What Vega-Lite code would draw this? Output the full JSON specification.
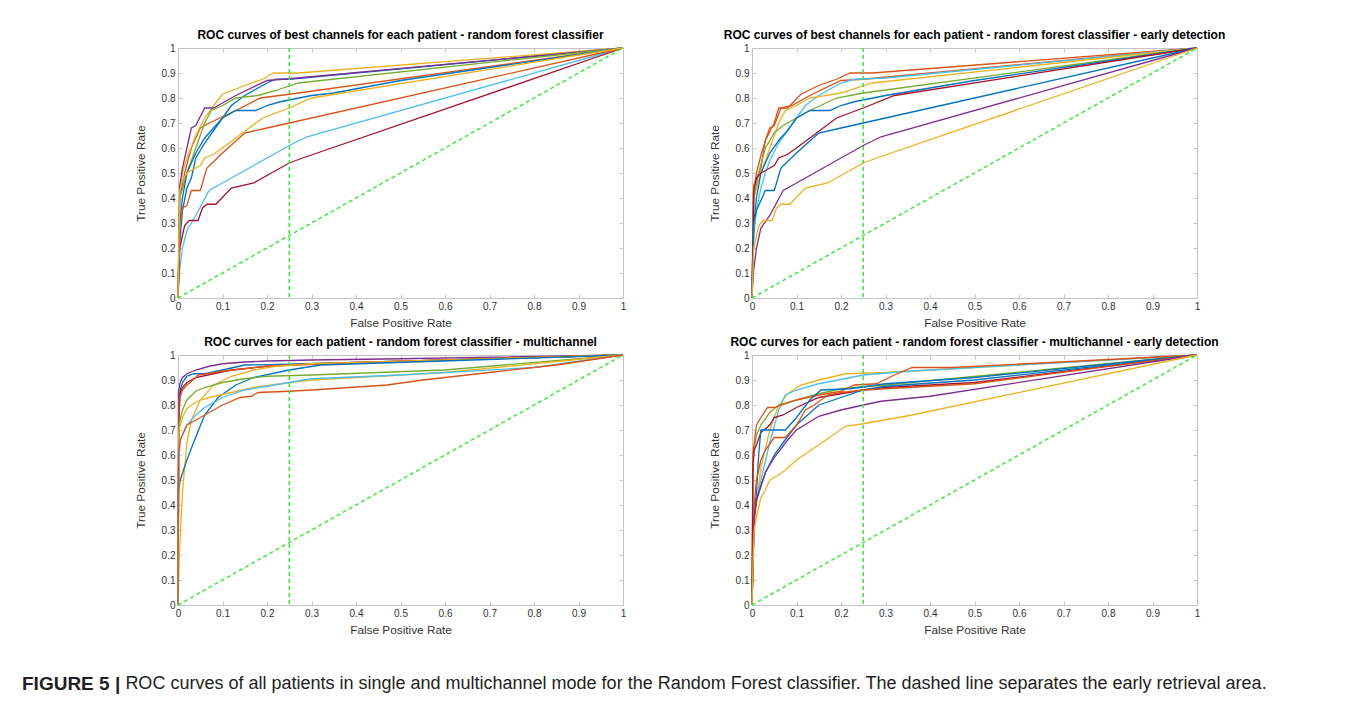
{
  "$schema": "https://vega.github.io/schema/vega-lite/v6.json",
  "padding": {"left": 21, "top": 29, "right": 0, "bottom": 0},
  "background": "white",
  "config": {
    "view": {"stroke": null},
    "axis": {"domainColor": "#c4c4c4", "tickColor": "#c4c4c4", "tickSize": -4, "grid": false, "labelFont": "Liberation Sans", "labelFontSize": 10, "labelColor": "#333333", "labelPadding": 7, "titleFont": "Liberation Sans", "titleFontSize": 11.8, "titleFontWeight": "normal", "titleColor": "#333333", "domainWidth": 1, "tickWidth": 1},
    "axisX": {"titlePadding": 6},
    "axisY": {"titlePadding": 15},
    "title": {"font": "Liberation Sans", "fontSize": 12, "fontWeight": "bold", "color": "#000000", "offset": 1}
  },
  "datasets": {
    "p1": [
      {"s":"blue1","c":"blue","x":0,"y":0},{"s":"blue1","c":"blue","x":0.004,"y":0.22},{"s":"blue1","c":"blue","x":0.01,"y":0.35},{"s":"blue1","c":"blue","x":0.02,"y":0.44},{"s":"blue1","c":"blue","x":0.03,"y":0.48},{"s":"blue1","c":"blue","x":0.04,"y":0.56},{"s":"blue1","c":"blue","x":0.06,"y":0.62},{"s":"blue1","c":"blue","x":0.08,"y":0.67},{"s":"blue1","c":"blue","x":0.1,"y":0.72},{"s":"blue1","c":"blue","x":0.12,"y":0.77},{"s":"blue1","c":"blue","x":0.15,"y":0.81},{"s":"blue1","c":"blue","x":0.2,"y":0.86},{"s":"blue1","c":"blue","x":0.22,"y":0.875},{"s":"blue1","c":"blue","x":0.25,"y":0.875},{"s":"blue1","c":"blue","x":1,"y":1},
      {"s":"orange1","c":"orange","x":0,"y":0},{"s":"orange1","c":"orange","x":0.004,"y":0.4},{"s":"orange1","c":"orange","x":0.015,"y":0.5},{"s":"orange1","c":"orange","x":0.03,"y":0.6},{"s":"orange1","c":"orange","x":0.05,"y":0.68},{"s":"orange1","c":"orange","x":0.07,"y":0.7},{"s":"orange1","c":"orange","x":0.1,"y":0.725},{"s":"orange1","c":"orange","x":0.13,"y":0.75},{"s":"orange1","c":"orange","x":0.185,"y":0.8},{"s":"orange1","c":"orange","x":0.25,"y":0.815},{"s":"orange1","c":"orange","x":1,"y":1},
      {"s":"yellow1","c":"yellow","x":0,"y":0},{"s":"yellow1","c":"yellow","x":0.003,"y":0.4},{"s":"yellow1","c":"yellow","x":0.01,"y":0.5},{"s":"yellow1","c":"yellow","x":0.02,"y":0.56},{"s":"yellow1","c":"yellow","x":0.04,"y":0.65},{"s":"yellow1","c":"yellow","x":0.06,"y":0.72},{"s":"yellow1","c":"yellow","x":0.08,"y":0.77},{"s":"yellow1","c":"yellow","x":0.1,"y":0.815},{"s":"yellow1","c":"yellow","x":0.15,"y":0.85},{"s":"yellow1","c":"yellow","x":0.19,"y":0.875},{"s":"yellow1","c":"yellow","x":0.215,"y":0.9},{"s":"yellow1","c":"yellow","x":0.27,"y":0.9},{"s":"yellow1","c":"yellow","x":1,"y":1},
      {"s":"purple","c":"purple","x":0,"y":0},{"s":"purple","c":"purple","x":0.004,"y":0.45},{"s":"purple","c":"purple","x":0.01,"y":0.52},{"s":"purple","c":"purple","x":0.02,"y":0.6},{"s":"purple","c":"purple","x":0.03,"y":0.68},{"s":"purple","c":"purple","x":0.04,"y":0.69},{"s":"purple","c":"purple","x":0.06,"y":0.76},{"s":"purple","c":"purple","x":0.08,"y":0.76},{"s":"purple","c":"purple","x":0.1,"y":0.78},{"s":"purple","c":"purple","x":0.13,"y":0.81},{"s":"purple","c":"purple","x":0.2,"y":0.87},{"s":"purple","c":"purple","x":0.25,"y":0.877},{"s":"purple","c":"purple","x":1,"y":1},
      {"s":"green","c":"green","x":0,"y":0},{"s":"green","c":"green","x":0.004,"y":0.4},{"s":"green","c":"green","x":0.02,"y":0.5},{"s":"green","c":"green","x":0.04,"y":0.6},{"s":"green","c":"green","x":0.06,"y":0.7},{"s":"green","c":"green","x":0.075,"y":0.75},{"s":"green","c":"green","x":0.1,"y":0.77},{"s":"green","c":"green","x":0.13,"y":0.8},{"s":"green","c":"green","x":0.18,"y":0.81},{"s":"green","c":"green","x":0.22,"y":0.83},{"s":"green","c":"green","x":0.27,"y":0.86},{"s":"green","c":"green","x":1,"y":1},
      {"s":"lightblue","c":"lightblue","x":0,"y":0},{"s":"lightblue","c":"lightblue","x":0.003,"y":0.1},{"s":"lightblue","c":"lightblue","x":0.01,"y":0.2},{"s":"lightblue","c":"lightblue","x":0.02,"y":0.27},{"s":"lightblue","c":"lightblue","x":0.04,"y":0.33},{"s":"lightblue","c":"lightblue","x":0.07,"y":0.43},{"s":"lightblue","c":"lightblue","x":0.1,"y":0.46},{"s":"lightblue","c":"lightblue","x":0.15,"y":0.51},{"s":"lightblue","c":"lightblue","x":0.2,"y":0.56},{"s":"lightblue","c":"lightblue","x":0.25,"y":0.61},{"s":"lightblue","c":"lightblue","x":0.29,"y":0.645},{"s":"lightblue","c":"lightblue","x":1,"y":1},
      {"s":"darkred","c":"darkred","x":0,"y":0},{"s":"darkred","c":"darkred","x":0.004,"y":0.2},{"s":"darkred","c":"darkred","x":0.01,"y":0.25},{"s":"darkred","c":"darkred","x":0.015,"y":0.29},{"s":"darkred","c":"darkred","x":0.025,"y":0.31},{"s":"darkred","c":"darkred","x":0.045,"y":0.31},{"s":"darkred","c":"darkred","x":0.055,"y":0.36},{"s":"darkred","c":"darkred","x":0.065,"y":0.375},{"s":"darkred","c":"darkred","x":0.085,"y":0.375},{"s":"darkred","c":"darkred","x":0.12,"y":0.44},{"s":"darkred","c":"darkred","x":0.17,"y":0.46},{"s":"darkred","c":"darkred","x":0.2,"y":0.49},{"s":"darkred","c":"darkred","x":0.25,"y":0.54},{"s":"darkred","c":"darkred","x":0.28,"y":0.56},{"s":"darkred","c":"darkred","x":1,"y":1},
      {"s":"blue2","c":"blue","x":0,"y":0},{"s":"blue2","c":"blue","x":0.004,"y":0.3},{"s":"blue2","c":"blue","x":0.01,"y":0.4},{"s":"blue2","c":"blue","x":0.02,"y":0.5},{"s":"blue2","c":"blue","x":0.04,"y":0.58},{"s":"blue2","c":"blue","x":0.06,"y":0.64},{"s":"blue2","c":"blue","x":0.08,"y":0.68},{"s":"blue2","c":"blue","x":0.1,"y":0.72},{"s":"blue2","c":"blue","x":0.13,"y":0.75},{"s":"blue2","c":"blue","x":0.175,"y":0.75},{"s":"blue2","c":"blue","x":0.2,"y":0.77},{"s":"blue2","c":"blue","x":0.23,"y":0.785},{"s":"blue2","c":"blue","x":0.3,"y":0.81},{"s":"blue2","c":"blue","x":0.35,"y":0.82},{"s":"blue2","c":"blue","x":0.5,"y":0.87},{"s":"blue2","c":"blue","x":1,"y":1},
      {"s":"orange2","c":"orange","x":0,"y":0},{"s":"orange2","c":"orange","x":0.004,"y":0.3},{"s":"orange2","c":"orange","x":0.01,"y":0.36},{"s":"orange2","c":"orange","x":0.02,"y":0.37},{"s":"orange2","c":"orange","x":0.03,"y":0.43},{"s":"orange2","c":"orange","x":0.05,"y":0.43},{"s":"orange2","c":"orange","x":0.065,"y":0.52},{"s":"orange2","c":"orange","x":0.1,"y":0.58},{"s":"orange2","c":"orange","x":0.15,"y":0.66},{"s":"orange2","c":"orange","x":0.2,"y":0.68},{"s":"orange2","c":"orange","x":0.25,"y":0.7},{"s":"orange2","c":"orange","x":1,"y":1},
      {"s":"yellow2","c":"yellow","x":0,"y":0},{"s":"yellow2","c":"yellow","x":0.004,"y":0.43},{"s":"yellow2","c":"yellow","x":0.01,"y":0.47},{"s":"yellow2","c":"yellow","x":0.02,"y":0.5},{"s":"yellow2","c":"yellow","x":0.04,"y":0.52},{"s":"yellow2","c":"yellow","x":0.05,"y":0.53},{"s":"yellow2","c":"yellow","x":0.06,"y":0.56},{"s":"yellow2","c":"yellow","x":0.08,"y":0.575},{"s":"yellow2","c":"yellow","x":0.1,"y":0.6},{"s":"yellow2","c":"yellow","x":0.13,"y":0.64},{"s":"yellow2","c":"yellow","x":0.19,"y":0.72},{"s":"yellow2","c":"yellow","x":0.25,"y":0.76},{"s":"yellow2","c":"yellow","x":0.3,"y":0.8},{"s":"yellow2","c":"yellow","x":1,"y":1}
    ],
    "p2": [
      {"s":"orange1","c":"orange","x":0,"y":0},{"s":"orange1","c":"orange","x":0.003,"y":0.42},{"s":"orange1","c":"orange","x":0.01,"y":0.5},{"s":"orange1","c":"orange","x":0.02,"y":0.57},{"s":"orange1","c":"orange","x":0.03,"y":0.63},{"s":"orange1","c":"orange","x":0.05,"y":0.7},{"s":"orange1","c":"orange","x":0.06,"y":0.76},{"s":"orange1","c":"orange","x":0.08,"y":0.76},{"s":"orange1","c":"orange","x":0.11,"y":0.815},{"s":"orange1","c":"orange","x":0.15,"y":0.85},{"s":"orange1","c":"orange","x":0.19,"y":0.875},{"s":"orange1","c":"orange","x":0.22,"y":0.9},{"s":"orange1","c":"orange","x":0.27,"y":0.9},{"s":"orange1","c":"orange","x":1,"y":1},
      {"s":"orange2","c":"orange","x":0,"y":0},{"s":"orange2","c":"orange","x":0.004,"y":0.45},{"s":"orange2","c":"orange","x":0.02,"y":0.52},{"s":"orange2","c":"orange","x":0.03,"y":0.63},{"s":"orange2","c":"orange","x":0.04,"y":0.68},{"s":"orange2","c":"orange","x":0.05,"y":0.69},{"s":"orange2","c":"orange","x":0.065,"y":0.76},{"s":"orange2","c":"orange","x":0.09,"y":0.77},{"s":"orange2","c":"orange","x":0.1,"y":0.78},{"s":"orange2","c":"orange","x":0.13,"y":0.81},{"s":"orange2","c":"orange","x":0.2,"y":0.87},{"s":"orange2","c":"orange","x":0.25,"y":0.875},{"s":"orange2","c":"orange","x":1,"y":1},
      {"s":"lightblue","c":"lightblue","x":0,"y":0},{"s":"lightblue","c":"lightblue","x":0.004,"y":0.25},{"s":"lightblue","c":"lightblue","x":0.01,"y":0.35},{"s":"lightblue","c":"lightblue","x":0.02,"y":0.44},{"s":"lightblue","c":"lightblue","x":0.03,"y":0.5},{"s":"lightblue","c":"lightblue","x":0.04,"y":0.55},{"s":"lightblue","c":"lightblue","x":0.06,"y":0.62},{"s":"lightblue","c":"lightblue","x":0.08,"y":0.67},{"s":"lightblue","c":"lightblue","x":0.1,"y":0.72},{"s":"lightblue","c":"lightblue","x":0.12,"y":0.77},{"s":"lightblue","c":"lightblue","x":0.15,"y":0.81},{"s":"lightblue","c":"lightblue","x":0.2,"y":0.86},{"s":"lightblue","c":"lightblue","x":0.23,"y":0.875},{"s":"lightblue","c":"lightblue","x":0.3,"y":0.88},{"s":"lightblue","c":"lightblue","x":1,"y":1},
      {"s":"yellow1","c":"yellow","x":0,"y":0},{"s":"yellow1","c":"yellow","x":0.004,"y":0.4},{"s":"yellow1","c":"yellow","x":0.02,"y":0.5},{"s":"yellow1","c":"yellow","x":0.04,"y":0.6},{"s":"yellow1","c":"yellow","x":0.06,"y":0.7},{"s":"yellow1","c":"yellow","x":0.075,"y":0.75},{"s":"yellow1","c":"yellow","x":0.1,"y":0.77},{"s":"yellow1","c":"yellow","x":0.13,"y":0.8},{"s":"yellow1","c":"yellow","x":0.2,"y":0.82},{"s":"yellow1","c":"yellow","x":0.27,"y":0.86},{"s":"yellow1","c":"yellow","x":1,"y":1},
      {"s":"green","c":"green","x":0,"y":0},{"s":"green","c":"green","x":0.004,"y":0.4},{"s":"green","c":"green","x":0.015,"y":0.5},{"s":"green","c":"green","x":0.03,"y":0.6},{"s":"green","c":"green","x":0.05,"y":0.66},{"s":"green","c":"green","x":0.07,"y":0.69},{"s":"green","c":"green","x":0.1,"y":0.72},{"s":"green","c":"green","x":0.13,"y":0.75},{"s":"green","c":"green","x":0.19,"y":0.8},{"s":"green","c":"green","x":0.25,"y":0.82},{"s":"green","c":"green","x":1,"y":1},
      {"s":"blue1","c":"blue","x":0,"y":0},{"s":"blue1","c":"blue","x":0.004,"y":0.3},{"s":"blue1","c":"blue","x":0.01,"y":0.4},{"s":"blue1","c":"blue","x":0.02,"y":0.5},{"s":"blue1","c":"blue","x":0.04,"y":0.58},{"s":"blue1","c":"blue","x":0.06,"y":0.63},{"s":"blue1","c":"blue","x":0.08,"y":0.67},{"s":"blue1","c":"blue","x":0.1,"y":0.72},{"s":"blue1","c":"blue","x":0.13,"y":0.75},{"s":"blue1","c":"blue","x":0.175,"y":0.75},{"s":"blue1","c":"blue","x":0.2,"y":0.77},{"s":"blue1","c":"blue","x":0.23,"y":0.785},{"s":"blue1","c":"blue","x":0.3,"y":0.81},{"s":"blue1","c":"blue","x":0.5,"y":0.87},{"s":"blue1","c":"blue","x":1,"y":1},
      {"s":"darkred","c":"darkred","x":0,"y":0},{"s":"darkred","c":"darkred","x":0.004,"y":0.43},{"s":"darkred","c":"darkred","x":0.01,"y":0.48},{"s":"darkred","c":"darkred","x":0.02,"y":0.5},{"s":"darkred","c":"darkred","x":0.04,"y":0.52},{"s":"darkred","c":"darkred","x":0.05,"y":0.53},{"s":"darkred","c":"darkred","x":0.06,"y":0.56},{"s":"darkred","c":"darkred","x":0.08,"y":0.575},{"s":"darkred","c":"darkred","x":0.1,"y":0.6},{"s":"darkred","c":"darkred","x":0.13,"y":0.64},{"s":"darkred","c":"darkred","x":0.19,"y":0.72},{"s":"darkred","c":"darkred","x":0.25,"y":0.76},{"s":"darkred","c":"darkred","x":0.32,"y":0.81},{"s":"darkred","c":"darkred","x":1,"y":1},
      {"s":"blue2","c":"blue","x":0,"y":0},{"s":"blue2","c":"blue","x":0.004,"y":0.3},{"s":"blue2","c":"blue","x":0.01,"y":0.35},{"s":"blue2","c":"blue","x":0.015,"y":0.37},{"s":"blue2","c":"blue","x":0.03,"y":0.43},{"s":"blue2","c":"blue","x":0.05,"y":0.43},{"s":"blue2","c":"blue","x":0.065,"y":0.52},{"s":"blue2","c":"blue","x":0.1,"y":0.58},{"s":"blue2","c":"blue","x":0.15,"y":0.66},{"s":"blue2","c":"blue","x":0.2,"y":0.68},{"s":"blue2","c":"blue","x":0.25,"y":0.7},{"s":"blue2","c":"blue","x":1,"y":1},
      {"s":"purple","c":"purple","x":0,"y":0},{"s":"purple","c":"purple","x":0.003,"y":0.1},{"s":"purple","c":"purple","x":0.01,"y":0.2},{"s":"purple","c":"purple","x":0.02,"y":0.28},{"s":"purple","c":"purple","x":0.04,"y":0.33},{"s":"purple","c":"purple","x":0.07,"y":0.43},{"s":"purple","c":"purple","x":0.1,"y":0.46},{"s":"purple","c":"purple","x":0.15,"y":0.51},{"s":"purple","c":"purple","x":0.2,"y":0.56},{"s":"purple","c":"purple","x":0.25,"y":0.61},{"s":"purple","c":"purple","x":0.29,"y":0.645},{"s":"purple","c":"purple","x":1,"y":1},
      {"s":"yellow2","c":"yellow","x":0,"y":0},{"s":"yellow2","c":"yellow","x":0.004,"y":0.2},{"s":"yellow2","c":"yellow","x":0.01,"y":0.25},{"s":"yellow2","c":"yellow","x":0.015,"y":0.29},{"s":"yellow2","c":"yellow","x":0.025,"y":0.31},{"s":"yellow2","c":"yellow","x":0.045,"y":0.31},{"s":"yellow2","c":"yellow","x":0.055,"y":0.36},{"s":"yellow2","c":"yellow","x":0.065,"y":0.375},{"s":"yellow2","c":"yellow","x":0.085,"y":0.375},{"s":"yellow2","c":"yellow","x":0.12,"y":0.44},{"s":"yellow2","c":"yellow","x":0.17,"y":0.46},{"s":"yellow2","c":"yellow","x":0.2,"y":0.49},{"s":"yellow2","c":"yellow","x":0.25,"y":0.54},{"s":"yellow2","c":"yellow","x":0.28,"y":0.56},{"s":"yellow2","c":"yellow","x":1,"y":1}
    ],
    "p3": [
      {"s":"purple","c":"purple","x":0,"y":0},{"s":"purple","c":"purple","x":0.001,"y":0.85},{"s":"purple","c":"purple","x":0.005,"y":0.89},{"s":"purple","c":"purple","x":0.01,"y":0.91},{"s":"purple","c":"purple","x":0.02,"y":0.925},{"s":"purple","c":"purple","x":0.04,"y":0.94},{"s":"purple","c":"purple","x":0.07,"y":0.955},{"s":"purple","c":"purple","x":0.1,"y":0.965},{"s":"purple","c":"purple","x":0.15,"y":0.972},{"s":"purple","c":"purple","x":0.2,"y":0.976},{"s":"purple","c":"purple","x":0.3,"y":0.98},{"s":"purple","c":"purple","x":0.5,"y":0.985},{"s":"purple","c":"purple","x":1,"y":1},
      {"s":"blue1","c":"blue","x":0,"y":0},{"s":"blue1","c":"blue","x":0.002,"y":0.8},{"s":"blue1","c":"blue","x":0.005,"y":0.86},{"s":"blue1","c":"blue","x":0.01,"y":0.89},{"s":"blue1","c":"blue","x":0.02,"y":0.915},{"s":"blue1","c":"blue","x":0.035,"y":0.925},{"s":"blue1","c":"blue","x":0.06,"y":0.925},{"s":"blue1","c":"blue","x":0.1,"y":0.94},{"s":"blue1","c":"blue","x":0.15,"y":0.96},{"s":"blue1","c":"blue","x":0.25,"y":0.963},{"s":"blue1","c":"blue","x":0.5,"y":0.975},{"s":"blue1","c":"blue","x":1,"y":1},
      {"s":"darkred","c":"darkred","x":0,"y":0},{"s":"darkred","c":"darkred","x":0.002,"y":0.75},{"s":"darkred","c":"darkred","x":0.005,"y":0.85},{"s":"darkred","c":"darkred","x":0.01,"y":0.87},{"s":"darkred","c":"darkred","x":0.02,"y":0.89},{"s":"darkred","c":"darkred","x":0.04,"y":0.91},{"s":"darkred","c":"darkred","x":0.08,"y":0.925},{"s":"darkred","c":"darkred","x":0.12,"y":0.94},{"s":"darkred","c":"darkred","x":0.2,"y":0.955},{"s":"darkred","c":"darkred","x":0.3,"y":0.965},{"s":"darkred","c":"darkred","x":1,"y":1},
      {"s":"orange2","c":"orange","x":0,"y":0},{"s":"orange2","c":"orange","x":0.002,"y":0.82},{"s":"orange2","c":"orange","x":0.01,"y":0.86},{"s":"orange2","c":"orange","x":0.02,"y":0.88},{"s":"orange2","c":"orange","x":0.04,"y":0.91},{"s":"orange2","c":"orange","x":0.045,"y":0.92},{"s":"orange2","c":"orange","x":0.1,"y":0.935},{"s":"orange2","c":"orange","x":0.2,"y":0.955},{"s":"orange2","c":"orange","x":0.4,"y":0.97},{"s":"orange2","c":"orange","x":1,"y":1},
      {"s":"yellow1","c":"yellow","x":0,"y":0},{"s":"yellow1","c":"yellow","x":0.003,"y":0.2},{"s":"yellow1","c":"yellow","x":0.01,"y":0.45},{"s":"yellow1","c":"yellow","x":0.02,"y":0.65},{"s":"yellow1","c":"yellow","x":0.03,"y":0.74},{"s":"yellow1","c":"yellow","x":0.05,"y":0.82},{"s":"yellow1","c":"yellow","x":0.08,"y":0.88},{"s":"yellow1","c":"yellow","x":0.12,"y":0.915},{"s":"yellow1","c":"yellow","x":0.17,"y":0.94},{"s":"yellow1","c":"yellow","x":0.22,"y":0.955},{"s":"yellow1","c":"yellow","x":0.3,"y":0.965},{"s":"yellow1","c":"yellow","x":1,"y":1},
      {"s":"blue2","c":"blue","x":0,"y":0},{"s":"blue2","c":"blue","x":0.001,"y":0.45},{"s":"blue2","c":"blue","x":0.005,"y":0.5},{"s":"blue2","c":"blue","x":0.02,"y":0.58},{"s":"blue2","c":"blue","x":0.035,"y":0.65},{"s":"blue2","c":"blue","x":0.06,"y":0.76},{"s":"blue2","c":"blue","x":0.09,"y":0.83},{"s":"blue2","c":"blue","x":0.13,"y":0.88},{"s":"blue2","c":"blue","x":0.17,"y":0.91},{"s":"blue2","c":"blue","x":0.25,"y":0.94},{"s":"blue2","c":"blue","x":0.32,"y":0.96},{"s":"blue2","c":"blue","x":1,"y":1},
      {"s":"green","c":"green","x":0,"y":0},{"s":"green","c":"green","x":0.002,"y":0.72},{"s":"green","c":"green","x":0.01,"y":0.78},{"s":"green","c":"green","x":0.02,"y":0.82},{"s":"green","c":"green","x":0.04,"y":0.855},{"s":"green","c":"green","x":0.06,"y":0.87},{"s":"green","c":"green","x":0.1,"y":0.89},{"s":"green","c":"green","x":0.15,"y":0.905},{"s":"green","c":"green","x":0.2,"y":0.915},{"s":"green","c":"green","x":0.3,"y":0.92},{"s":"green","c":"green","x":0.6,"y":0.94},{"s":"green","c":"green","x":1,"y":1},
      {"s":"yellow2","c":"yellow","x":0,"y":0},{"s":"yellow2","c":"yellow","x":0.002,"y":0.7},{"s":"yellow2","c":"yellow","x":0.01,"y":0.75},{"s":"yellow2","c":"yellow","x":0.02,"y":0.785},{"s":"yellow2","c":"yellow","x":0.03,"y":0.8},{"s":"yellow2","c":"yellow","x":0.05,"y":0.82},{"s":"yellow2","c":"yellow","x":0.07,"y":0.83},{"s":"yellow2","c":"yellow","x":0.12,"y":0.85},{"s":"yellow2","c":"yellow","x":0.17,"y":0.87},{"s":"yellow2","c":"yellow","x":0.25,"y":0.89},{"s":"yellow2","c":"yellow","x":0.3,"y":0.9},{"s":"yellow2","c":"yellow","x":0.6,"y":0.93},{"s":"yellow2","c":"yellow","x":1,"y":1},
      {"s":"lightblue","c":"lightblue","x":0,"y":0},{"s":"lightblue","c":"lightblue","x":0.001,"y":0.55},{"s":"lightblue","c":"lightblue","x":0.005,"y":0.66},{"s":"lightblue","c":"lightblue","x":0.02,"y":0.72},{"s":"lightblue","c":"lightblue","x":0.04,"y":0.76},{"s":"lightblue","c":"lightblue","x":0.06,"y":0.79},{"s":"lightblue","c":"lightblue","x":0.1,"y":0.83},{"s":"lightblue","c":"lightblue","x":0.15,"y":0.86},{"s":"lightblue","c":"lightblue","x":0.2,"y":0.875},{"s":"lightblue","c":"lightblue","x":0.25,"y":0.89},{"s":"lightblue","c":"lightblue","x":0.3,"y":0.905},{"s":"lightblue","c":"lightblue","x":0.5,"y":0.92},{"s":"lightblue","c":"lightblue","x":0.8,"y":0.95},{"s":"lightblue","c":"lightblue","x":1,"y":1},
      {"s":"orange1","c":"orange","x":0,"y":0},{"s":"orange1","c":"orange","x":0.001,"y":0.6},{"s":"orange1","c":"orange","x":0.005,"y":0.66},{"s":"orange1","c":"orange","x":0.02,"y":0.72},{"s":"orange1","c":"orange","x":0.04,"y":0.74},{"s":"orange1","c":"orange","x":0.07,"y":0.77},{"s":"orange1","c":"orange","x":0.1,"y":0.8},{"s":"orange1","c":"orange","x":0.14,"y":0.83},{"s":"orange1","c":"orange","x":0.165,"y":0.835},{"s":"orange1","c":"orange","x":0.18,"y":0.85},{"s":"orange1","c":"orange","x":0.25,"y":0.855},{"s":"orange1","c":"orange","x":0.3,"y":0.86},{"s":"orange1","c":"orange","x":0.47,"y":0.88},{"s":"orange1","c":"orange","x":0.55,"y":0.9},{"s":"orange1","c":"orange","x":0.7,"y":0.93},{"s":"orange1","c":"orange","x":0.85,"y":0.96},{"s":"orange1","c":"orange","x":1,"y":1}
    ],
    "p4": [
      {"s":"yellow1","c":"yellow","x":0,"y":0},{"s":"yellow1","c":"yellow","x":0.004,"y":0.3},{"s":"yellow1","c":"yellow","x":0.01,"y":0.4},{"s":"yellow1","c":"yellow","x":0.02,"y":0.55},{"s":"yellow1","c":"yellow","x":0.04,"y":0.7},{"s":"yellow1","c":"yellow","x":0.06,"y":0.8},{"s":"yellow1","c":"yellow","x":0.08,"y":0.845},{"s":"yellow1","c":"yellow","x":0.11,"y":0.88},{"s":"yellow1","c":"yellow","x":0.15,"y":0.9},{"s":"yellow1","c":"yellow","x":0.21,"y":0.925},{"s":"yellow1","c":"yellow","x":0.3,"y":0.93},{"s":"yellow1","c":"yellow","x":0.5,"y":0.95},{"s":"yellow1","c":"yellow","x":1,"y":1},
      {"s":"lightblue","c":"lightblue","x":0,"y":0},{"s":"lightblue","c":"lightblue","x":0.004,"y":0.4},{"s":"lightblue","c":"lightblue","x":0.01,"y":0.42},{"s":"lightblue","c":"lightblue","x":0.02,"y":0.5},{"s":"lightblue","c":"lightblue","x":0.04,"y":0.65},{"s":"lightblue","c":"lightblue","x":0.06,"y":0.78},{"s":"lightblue","c":"lightblue","x":0.075,"y":0.84},{"s":"lightblue","c":"lightblue","x":0.1,"y":0.86},{"s":"lightblue","c":"lightblue","x":0.15,"y":0.885},{"s":"lightblue","c":"lightblue","x":0.25,"y":0.92},{"s":"lightblue","c":"lightblue","x":0.35,"y":0.935},{"s":"lightblue","c":"lightblue","x":1,"y":1},
      {"s":"green","c":"green","x":0,"y":0},{"s":"green","c":"green","x":0.003,"y":0.6},{"s":"green","c":"green","x":0.01,"y":0.68},{"s":"green","c":"green","x":0.02,"y":0.72},{"s":"green","c":"green","x":0.04,"y":0.77},{"s":"green","c":"green","x":0.06,"y":0.8},{"s":"green","c":"green","x":0.1,"y":0.82},{"s":"green","c":"green","x":0.15,"y":0.845},{"s":"green","c":"green","x":0.2,"y":0.865},{"s":"green","c":"green","x":0.3,"y":0.88},{"s":"green","c":"green","x":1,"y":1},
      {"s":"orange1","c":"orange","x":0,"y":0},{"s":"orange1","c":"orange","x":0.002,"y":0.6},{"s":"orange1","c":"orange","x":0.005,"y":0.65},{"s":"orange1","c":"orange","x":0.01,"y":0.72},{"s":"orange1","c":"orange","x":0.02,"y":0.75},{"s":"orange1","c":"orange","x":0.035,"y":0.79},{"s":"orange1","c":"orange","x":0.05,"y":0.79},{"s":"orange1","c":"orange","x":0.1,"y":0.82},{"s":"orange1","c":"orange","x":0.15,"y":0.84},{"s":"orange1","c":"orange","x":0.2,"y":0.855},{"s":"orange1","c":"orange","x":0.23,"y":0.88},{"s":"orange1","c":"orange","x":0.28,"y":0.885},{"s":"orange1","c":"orange","x":0.32,"y":0.92},{"s":"orange1","c":"orange","x":0.36,"y":0.95},{"s":"orange1","c":"orange","x":0.45,"y":0.95},{"s":"orange1","c":"orange","x":1,"y":1},
      {"s":"darkred","c":"darkred","x":0,"y":0},{"s":"darkred","c":"darkred","x":0.002,"y":0.55},{"s":"darkred","c":"darkred","x":0.005,"y":0.62},{"s":"darkred","c":"darkred","x":0.01,"y":0.64},{"s":"darkred","c":"darkred","x":0.02,"y":0.69},{"s":"darkred","c":"darkred","x":0.04,"y":0.72},{"s":"darkred","c":"darkred","x":0.05,"y":0.75},{"s":"darkred","c":"darkred","x":0.07,"y":0.76},{"s":"darkred","c":"darkred","x":0.1,"y":0.79},{"s":"darkred","c":"darkred","x":0.15,"y":0.83},{"s":"darkred","c":"darkred","x":0.25,"y":0.86},{"s":"darkred","c":"darkred","x":0.3,"y":0.87},{"s":"darkred","c":"darkred","x":0.5,"y":0.89},{"s":"darkred","c":"darkred","x":1,"y":1},
      {"s":"blue1","c":"blue","x":0,"y":0},{"s":"blue1","c":"blue","x":0.005,"y":0.35},{"s":"blue1","c":"blue","x":0.01,"y":0.45},{"s":"blue1","c":"blue","x":0.015,"y":0.6},{"s":"blue1","c":"blue","x":0.02,"y":0.7},{"s":"blue1","c":"blue","x":0.075,"y":0.7},{"s":"blue1","c":"blue","x":0.1,"y":0.75},{"s":"blue1","c":"blue","x":0.13,"y":0.82},{"s":"blue1","c":"blue","x":0.155,"y":0.86},{"s":"blue1","c":"blue","x":0.22,"y":0.865},{"s":"blue1","c":"blue","x":0.3,"y":0.885},{"s":"blue1","c":"blue","x":0.5,"y":0.91},{"s":"blue1","c":"blue","x":1,"y":1},
      {"s":"blue2","c":"blue","x":0,"y":0},{"s":"blue2","c":"blue","x":0.005,"y":0.35},{"s":"blue2","c":"blue","x":0.01,"y":0.42},{"s":"blue2","c":"blue","x":0.03,"y":0.53},{"s":"blue2","c":"blue","x":0.05,"y":0.6},{"s":"blue2","c":"blue","x":0.07,"y":0.65},{"s":"blue2","c":"blue","x":0.1,"y":0.72},{"s":"blue2","c":"blue","x":0.15,"y":0.8},{"s":"blue2","c":"blue","x":0.2,"y":0.83},{"s":"blue2","c":"blue","x":0.25,"y":0.86},{"s":"blue2","c":"blue","x":0.3,"y":0.875},{"s":"blue2","c":"blue","x":0.5,"y":0.9},{"s":"blue2","c":"blue","x":1,"y":1},
      {"s":"orange2","c":"orange","x":0,"y":0},{"s":"orange2","c":"orange","x":0.005,"y":0.4},{"s":"orange2","c":"orange","x":0.01,"y":0.5},{"s":"orange2","c":"orange","x":0.02,"y":0.58},{"s":"orange2","c":"orange","x":0.03,"y":0.62},{"s":"orange2","c":"orange","x":0.05,"y":0.67},{"s":"orange2","c":"orange","x":0.075,"y":0.67},{"s":"orange2","c":"orange","x":0.1,"y":0.72},{"s":"orange2","c":"orange","x":0.12,"y":0.78},{"s":"orange2","c":"orange","x":0.14,"y":0.8},{"s":"orange2","c":"orange","x":0.17,"y":0.84},{"s":"orange2","c":"orange","x":0.2,"y":0.85},{"s":"orange2","c":"orange","x":0.25,"y":0.86},{"s":"orange2","c":"orange","x":0.5,"y":0.885},{"s":"orange2","c":"orange","x":1,"y":1},
      {"s":"purple","c":"purple","x":0,"y":0},{"s":"purple","c":"purple","x":0.005,"y":0.35},{"s":"purple","c":"purple","x":0.01,"y":0.42},{"s":"purple","c":"purple","x":0.03,"y":0.53},{"s":"purple","c":"purple","x":0.05,"y":0.59},{"s":"purple","c":"purple","x":0.08,"y":0.66},{"s":"purple","c":"purple","x":0.1,"y":0.7},{"s":"purple","c":"purple","x":0.15,"y":0.755},{"s":"purple","c":"purple","x":0.2,"y":0.78},{"s":"purple","c":"purple","x":0.25,"y":0.8},{"s":"purple","c":"purple","x":0.29,"y":0.815},{"s":"purple","c":"purple","x":0.4,"y":0.835},{"s":"purple","c":"purple","x":1,"y":1},
      {"s":"yellow2","c":"yellow","x":0,"y":0},{"s":"yellow2","c":"yellow","x":0.003,"y":0.2},{"s":"yellow2","c":"yellow","x":0.005,"y":0.3},{"s":"yellow2","c":"yellow","x":0.01,"y":0.35},{"s":"yellow2","c":"yellow","x":0.02,"y":0.43},{"s":"yellow2","c":"yellow","x":0.03,"y":0.46},{"s":"yellow2","c":"yellow","x":0.04,"y":0.5},{"s":"yellow2","c":"yellow","x":0.06,"y":0.52},{"s":"yellow2","c":"yellow","x":0.075,"y":0.54},{"s":"yellow2","c":"yellow","x":0.1,"y":0.58},{"s":"yellow2","c":"yellow","x":0.15,"y":0.64},{"s":"yellow2","c":"yellow","x":0.21,"y":0.715},{"s":"yellow2","c":"yellow","x":0.25,"y":0.725},{"s":"yellow2","c":"yellow","x":0.36,"y":0.76},{"s":"yellow2","c":"yellow","x":1,"y":1}
    ],
    "diag": [{"x":0,"y":0},{"x":1,"y":1}],
    "cut": [{"x":0.25}],
    "caption": [{"caption":"ROC curves of all patients in single and multichannel mode for the Random Forest classifier. The dashed line separates the early retrieval area."}]
  },
  "vconcat": [
    {
      "columns": 2,
      "bounds": "flush",
      "spacing": {"row": 57, "column": 129},
      "concat": [
        {
          "title": "ROC curves of best channels for each patient - random forest classifier",
          "width": 445, "height": 250,
          "layer": [
            {"data": {"name": "p1"}, "mark": {"type": "line", "strokeWidth": 1.3},
             "encoding": {
               "x": {"field": "x", "type": "quantitative", "scale": {"domain": [0, 1], "nice": false}, "axis": {"orient": "bottom", "values": [0,0.1,0.2,0.3,0.4,0.5,0.6,0.7,0.8,0.9,1], "format": ".1~f", "title": "False Positive Rate", "labelFlush": false, "labelOverlap": false}},
               "y": {"field": "y", "type": "quantitative", "scale": {"domain": [0, 1], "nice": false}, "axis": {"orient": "left", "values": [0,0.1,0.2,0.3,0.4,0.5,0.6,0.7,0.8,0.9,1], "format": ".1~f", "title": "True Positive Rate", "labelFlush": false, "labelOverlap": false}},
               "color": {"field": "c", "type": "nominal", "scale": {"domain": ["blue","orange","yellow","purple","green","lightblue","darkred"], "range": ["#0072BD","#D95319","#EDB120","#7E2F8E","#77AC30","#4DBEEE","#A2142F"]}, "legend": null},
               "detail": {"field": "s", "type": "nominal"}
             }},
            {"data": {"name": "diag"}, "mark": {"type": "line", "color": "#3be83b", "strokeDash": [4, 3], "strokeWidth": 1.5},
             "encoding": {
               "x": {"field": "x", "type": "quantitative", "axis": {"orient": "top", "values": [0,0.1,0.2,0.3,0.4,0.5,0.6,0.7,0.8,0.9,1], "labels": false, "title": null}},
               "y": {"field": "y", "type": "quantitative", "axis": {"orient": "right", "values": [0,0.1,0.2,0.3,0.4,0.5,0.6,0.7,0.8,0.9,1], "labels": false, "title": null}}
             }},
            {"data": {"name": "cut"}, "mark": {"type": "rule", "color": "#3be83b", "strokeDash": [4, 3], "strokeWidth": 1.5},
             "encoding": {"x": {"field": "x", "type": "quantitative", "axis": null}}}
          ],
          "resolve": {"axis": {"x": "independent", "y": "independent"}}
        },
        {
          "title": "ROC curves of best channels for each patient - random forest classifier - early detection",
          "width": 445, "height": 250,
          "layer": [
            {"data": {"name": "p2"}, "mark": {"type": "line", "strokeWidth": 1.3},
             "encoding": {
               "x": {"field": "x", "type": "quantitative", "scale": {"domain": [0, 1], "nice": false}, "axis": {"orient": "bottom", "values": [0,0.1,0.2,0.3,0.4,0.5,0.6,0.7,0.8,0.9,1], "format": ".1~f", "title": "False Positive Rate", "labelFlush": false, "labelOverlap": false}},
               "y": {"field": "y", "type": "quantitative", "scale": {"domain": [0, 1], "nice": false}, "axis": {"orient": "left", "values": [0,0.1,0.2,0.3,0.4,0.5,0.6,0.7,0.8,0.9,1], "format": ".1~f", "title": "True Positive Rate", "labelFlush": false, "labelOverlap": false}},
               "color": {"field": "c", "type": "nominal", "scale": {"domain": ["blue","orange","yellow","purple","green","lightblue","darkred"], "range": ["#0072BD","#D95319","#EDB120","#7E2F8E","#77AC30","#4DBEEE","#A2142F"]}, "legend": null},
               "detail": {"field": "s", "type": "nominal"}
             }},
            {"data": {"name": "diag"}, "mark": {"type": "line", "color": "#3be83b", "strokeDash": [4, 3], "strokeWidth": 1.5},
             "encoding": {
               "x": {"field": "x", "type": "quantitative", "axis": {"orient": "top", "values": [0,0.1,0.2,0.3,0.4,0.5,0.6,0.7,0.8,0.9,1], "labels": false, "title": null}},
               "y": {"field": "y", "type": "quantitative", "axis": {"orient": "right", "values": [0,0.1,0.2,0.3,0.4,0.5,0.6,0.7,0.8,0.9,1], "labels": false, "title": null}}
             }},
            {"data": {"name": "cut"}, "mark": {"type": "rule", "color": "#3be83b", "strokeDash": [4, 3], "strokeWidth": 1.5},
             "encoding": {"x": {"field": "x", "type": "quantitative", "axis": null}}}
          ],
          "resolve": {"axis": {"x": "independent", "y": "independent"}}
        },
        {
          "title": "ROC curves for each patient - random forest classifier - multichannel",
          "width": 445, "height": 250,
          "layer": [
            {"data": {"name": "p3"}, "mark": {"type": "line", "strokeWidth": 1.3},
             "encoding": {
               "x": {"field": "x", "type": "quantitative", "scale": {"domain": [0, 1], "nice": false}, "axis": {"orient": "bottom", "values": [0,0.1,0.2,0.3,0.4,0.5,0.6,0.7,0.8,0.9,1], "format": ".1~f", "title": "False Positive Rate", "labelFlush": false, "labelOverlap": false}},
               "y": {"field": "y", "type": "quantitative", "scale": {"domain": [0, 1], "nice": false}, "axis": {"orient": "left", "values": [0,0.1,0.2,0.3,0.4,0.5,0.6,0.7,0.8,0.9,1], "format": ".1~f", "title": "True Positive Rate", "labelFlush": false, "labelOverlap": false}},
               "color": {"field": "c", "type": "nominal", "scale": {"domain": ["blue","orange","yellow","purple","green","lightblue","darkred"], "range": ["#0072BD","#D95319","#EDB120","#7E2F8E","#77AC30","#4DBEEE","#A2142F"]}, "legend": null},
               "detail": {"field": "s", "type": "nominal"}
             }},
            {"data": {"name": "diag"}, "mark": {"type": "line", "color": "#3be83b", "strokeDash": [4, 3], "strokeWidth": 1.5},
             "encoding": {
               "x": {"field": "x", "type": "quantitative", "axis": {"orient": "top", "values": [0,0.1,0.2,0.3,0.4,0.5,0.6,0.7,0.8,0.9,1], "labels": false, "title": null}},
               "y": {"field": "y", "type": "quantitative", "axis": {"orient": "right", "values": [0,0.1,0.2,0.3,0.4,0.5,0.6,0.7,0.8,0.9,1], "labels": false, "title": null}}
             }},
            {"data": {"name": "cut"}, "mark": {"type": "rule", "color": "#3be83b", "strokeDash": [4, 3], "strokeWidth": 1.5},
             "encoding": {"x": {"field": "x", "type": "quantitative", "axis": null}}}
          ],
          "resolve": {"axis": {"x": "independent", "y": "independent"}}
        },
        {
          "title": "ROC curves for each patient - random forest classifier - multichannel - early detection",
          "width": 445, "height": 250,
          "layer": [
            {"data": {"name": "p4"}, "mark": {"type": "line", "strokeWidth": 1.3},
             "encoding": {
               "x": {"field": "x", "type": "quantitative", "scale": {"domain": [0, 1], "nice": false}, "axis": {"orient": "bottom", "values": [0,0.1,0.2,0.3,0.4,0.5,0.6,0.7,0.8,0.9,1], "format": ".1~f", "title": "False Positive Rate", "labelFlush": false, "labelOverlap": false}},
               "y": {"field": "y", "type": "quantitative", "scale": {"domain": [0, 1], "nice": false}, "axis": {"orient": "left", "values": [0,0.1,0.2,0.3,0.4,0.5,0.6,0.7,0.8,0.9,1], "format": ".1~f", "title": "True Positive Rate", "labelFlush": false, "labelOverlap": false}},
               "color": {"field": "c", "type": "nominal", "scale": {"domain": ["blue","orange","yellow","purple","green","lightblue","darkred"], "range": ["#0072BD","#D95319","#EDB120","#7E2F8E","#77AC30","#4DBEEE","#A2142F"]}, "legend": null},
               "detail": {"field": "s", "type": "nominal"}
             }},
            {"data": {"name": "diag"}, "mark": {"type": "line", "color": "#3be83b", "strokeDash": [4, 3], "strokeWidth": 1.5},
             "encoding": {
               "x": {"field": "x", "type": "quantitative", "axis": {"orient": "top", "values": [0,0.1,0.2,0.3,0.4,0.5,0.6,0.7,0.8,0.9,1], "labels": false, "title": null}},
               "y": {"field": "y", "type": "quantitative", "axis": {"orient": "right", "values": [0,0.1,0.2,0.3,0.4,0.5,0.6,0.7,0.8,0.9,1], "labels": false, "title": null}}
             }},
            {"data": {"name": "cut"}, "mark": {"type": "rule", "color": "#3be83b", "strokeDash": [4, 3], "strokeWidth": 1.5},
             "encoding": {"x": {"field": "x", "type": "quantitative", "axis": null}}}
          ],
          "resolve": {"axis": {"x": "independent", "y": "independent"}}
        }
      ]
    },
    {
      "width": 1036, "height": 24,
      "data": {"name": "caption"},
      "mark": {"type": "text", "font": "Liberation Sans", "fontSize": 18, "color": "#231f20", "baseline": "middle", "align": "center"},
      "encoding": {"text": {"field": "caption", "type": "nominal"}},
      "title": {"text": "FIGURE 5 |", "orient": "left", "angle": 0, "anchor": "middle", "frame": "group", "align": "left", "baseline": "middle", "font": "Liberation Sans", "fontSize": 19, "fontWeight": "bold", "color": "#231f20", "offset": 5}
    }
  ],
  "spacing": 36
}
